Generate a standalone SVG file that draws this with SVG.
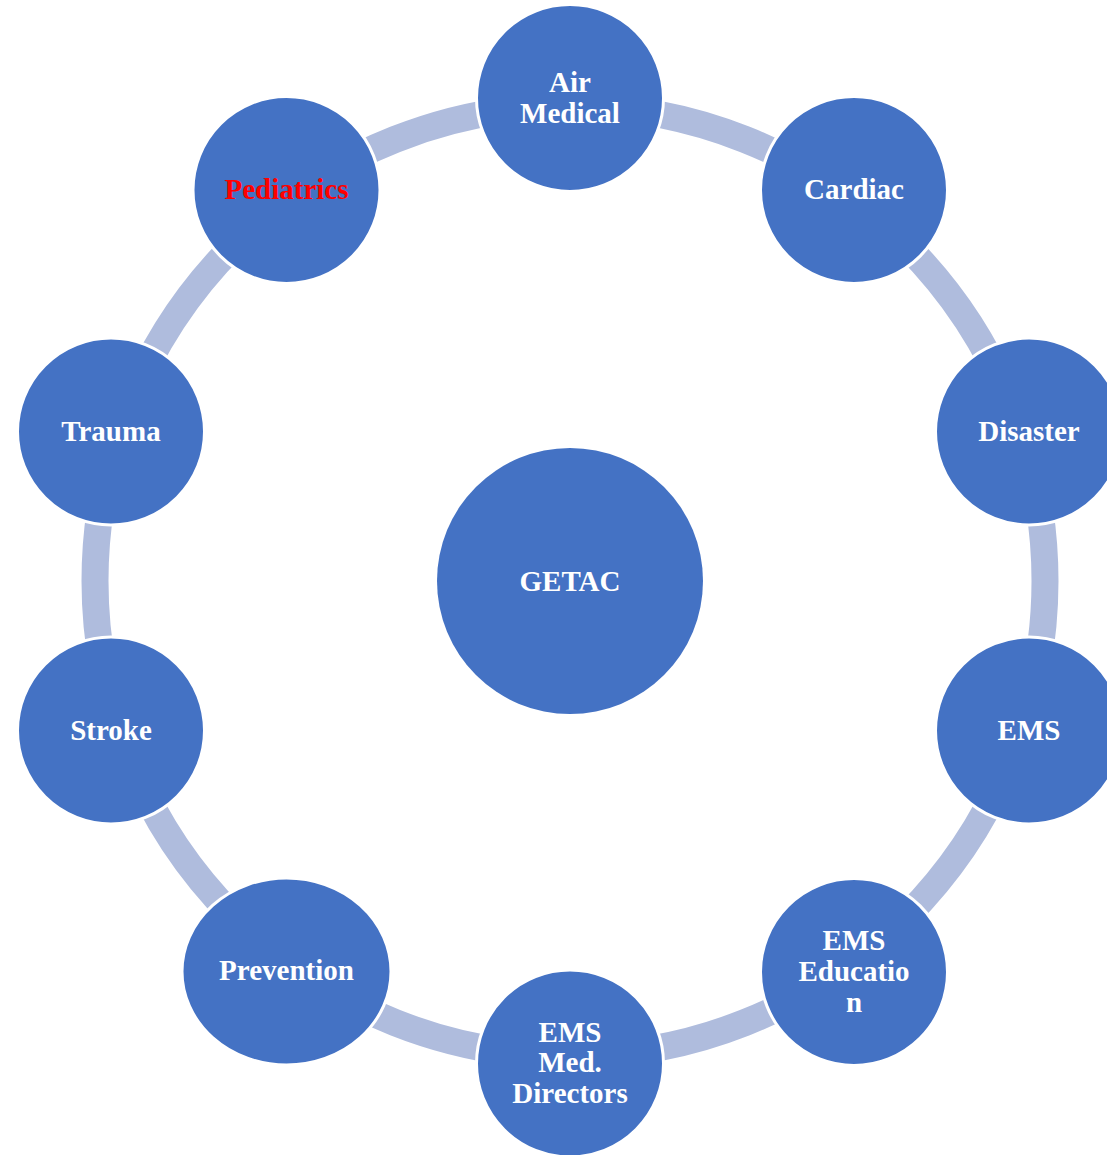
<svg xmlns="http://www.w3.org/2000/svg" width="1107" height="1155" viewBox="0 0 1107 1155">
<style>
.node{fill:#4472C4;stroke:#FFFFFF;stroke-width:3}
.hub{fill:#4472C4}
.lbl{font-family:"Liberation Serif","Times New Roman",serif;font-weight:bold;font-size:29px;fill:#FFFFFF;text-anchor:middle}
.red{fill:#FF0000}
.ring{fill:none;stroke:#AFBCDD;stroke-width:27}
</style>
<rect width="1107" height="1155" fill="#FFFFFF"/>
<g id="connectors">
<circle class="ring" cx="570" cy="581" r="475"/>
</g>
<g id="node-getac">
<circle class="hub" cx="570" cy="581" r="133"/>
<text class="lbl" x="570" y="591">GETAC</text>
</g>
<g id="node-air-medical">
<circle class="node" cx="570" cy="98" r="93.5"/>
<text class="lbl" x="570" y="92">Air</text>
<text class="lbl" x="570" y="123">Medical</text>
</g>
<g id="node-cardiac">
<circle class="node" cx="854" cy="190" r="93.5"/>
<text class="lbl" x="854" y="199">Cardiac</text>
</g>
<g id="node-disaster">
<circle class="node" cx="1029" cy="431.5" r="93.5"/>
<text class="lbl" x="1029" y="441">Disaster</text>
</g>
<g id="node-ems">
<circle class="node" cx="1029" cy="730.5" r="93.5"/>
<text class="lbl" x="1029" y="740">EMS</text>
</g>
<g id="node-ems-education">
<circle class="node" cx="854" cy="972" r="93.5"/>
<text class="lbl" x="854" y="950">EMS</text>
<text class="lbl" x="854" y="981">Educatio</text>
<text class="lbl" x="854" y="1012">n</text>
</g>
<g id="node-ems-med-directors">
<circle class="node" cx="570" cy="1063.5" r="93.5"/>
<text class="lbl" x="570" y="1042">EMS</text>
<text class="lbl" x="570" y="1072">Med.</text>
<text class="lbl" x="570" y="1103">Directors</text>
</g>
<g id="node-prevention">
<ellipse class="node" cx="286.5" cy="971.5" rx="104.5" ry="93.5"/>
<text class="lbl" x="286.5" y="980">Prevention</text>
</g>
<g id="node-stroke">
<circle class="node" cx="111" cy="730.5" r="93.5"/>
<text class="lbl" x="111" y="740">Stroke</text>
</g>
<g id="node-trauma">
<circle class="node" cx="111" cy="431.5" r="93.5"/>
<text class="lbl" x="111" y="441">Trauma</text>
</g>
<g id="node-pediatrics">
<circle class="node" cx="286.5" cy="190" r="93.5"/>
<text class="lbl red" x="286.5" y="199">Pediatrics</text>
</g>
</svg>
